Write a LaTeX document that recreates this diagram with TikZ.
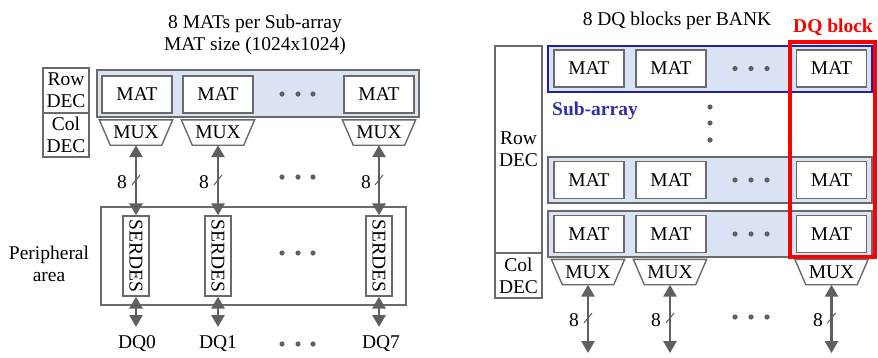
\documentclass[tikz,border=0pt]{standalone}
\usepackage{fontspec}
\setmainfont{Liberation Serif}
\usetikzlibrary{arrows.meta}
\definecolor{subfill}{HTML}{DAE3F3}
\definecolor{boxgray}{HTML}{6A6A6A}
\definecolor{arrgray}{HTML}{5F5F5F}
\definecolor{subblue}{HTML}{2020B0}
\definecolor{subtext}{HTML}{3030A8}
\definecolor{dqred}{HTML}{FF0000}
\newcommand\muxat[3]{%
  \node[muxbox] (#1) at (#2,#3) {MUX};
  \draw[draw=boxgray, line width=1.4pt, line join=miter] (#1.north west) -- (#1.north east) -- ([xshift=-11pt]#1.south east) -- ([xshift=11pt]#1.south west) -- cycle;
}
\newcommand\slashat[2]{%
  \draw[slashline] (#1-4,#2+5) -- (#1+4,#2-5);
}
\begin{document}
\begin{tikzpicture}[x=1pt,y=-1pt,
  every node/.style={font=\fontsize{19.5}{22}\selectfont, inner sep=0pt},
  box/.style={draw=boxgray, line width=1.4pt, fill=white, align=center},
  matbox/.style={box, minimum width=70pt, minimum height=37pt},
  subbox/.style={draw=boxgray, line width=1.4pt, fill=subfill},
  muxbox/.style={minimum width=73pt, minimum height=25pt},
  arr/.style={draw=arrgray, line width=2.8pt, {Triangle[width=13pt,length=12pt]}-{Triangle[width=13pt,length=12pt]}},
  slashline/.style={draw=arrgray, line width=1pt},
  dotfill/.style={fill=arrgray},
]
\useasboundingbox (0,0) rectangle (878,357);

% ================= LEFT PANEL =================
\node[align=center] (titleL) at (255,35) {8 MATs per Sub-array\\MAT size (1024x1024)};

\node[box, minimum width=46pt, minimum height=45pt] (rowL) at (66,90.5) {Row\\DEC};
\node[box, minimum width=46pt, minimum height=44pt] (colL) at (66,135) {Col\\DEC};

\node[subbox, minimum width=322pt, minimum height=47pt] (subL) at (258,93.5) {};
\node[matbox] (matL1) at (137,94.5) {MAT};
\node[matbox] (matL2) at (218,94.5) {MAT};
\node[matbox] (matL3) at (379,94.5) {MAT};
\foreach \x in {282,298,313} \fill[dotfill] (\x,94) circle (2.6pt);

\muxat{muxL1}{136}{132.5}
\muxat{muxL2}{218}{132.5}
\muxat{muxL3}{379}{132.5}

\node[draw=boxgray, line width=1.4pt, minimum width=305pt, minimum height=98pt] (peri) at (253.5,256) {};
\node[align=center] (periLab) at (49,264) {Peripheral\\area};

\node[box, minimum width=26pt, minimum height=80pt] (serL1) at (136,256) {\rotatebox{-90}{SERDES}};
\node[box, minimum width=26pt, minimum height=80pt] (serL2) at (218,256) {\rotatebox{-90}{SERDES}};
\node[box, minimum width=26pt, minimum height=80pt] (serL3) at (379,256) {\rotatebox{-90}{SERDES}};
\foreach \x in {282,298,313} \fill[dotfill] (\x,253) circle (2.6pt);

\draw[arr] (muxL1.south) -- (serL1.north);
\draw[arr] (muxL2.south) -- (serL2.north);
\draw[arr] (muxL3.south) -- (serL3.north);
\node (eightL1) at (122,182) {8};
\node (eightL2) at (204,182) {8};
\node (eightL3) at (366,182) {8};
\slashat{136}{180}
\slashat{218}{180}
\slashat{379}{180}
\foreach \x in {282,298,313} \fill[dotfill] (\x,177) circle (2.6pt);

\coordinate (dqc1) at (136,327);
\coordinate (dqc2) at (218,327);
\coordinate (dqc3) at (379,327);
\draw[arr] (serL1.south) -- (dqc1);
\draw[arr] (serL2.south) -- (dqc2);
\draw[arr] (serL3.south) -- (dqc3);
\node (dq0) at (137,344) {DQ0};
\node (dq1) at (218,344) {DQ1};
\node (dq7) at (381,344) {DQ7};
\foreach \x in {282,298,313} \fill[dotfill] (\x,344) circle (2.6pt);

% ================= RIGHT PANEL =================
\node (titleR) at (677,21) {8 DQ blocks per BANK};
\node[text=dqred, font=\fontsize{19.5}{22}\selectfont\bfseries] (dqLab) at (833,27) {DQ block};

\node[box, minimum width=47pt, minimum height=207pt] (rowR) at (518.5,149.5) {Row\\DEC};
\node[box, minimum width=47pt, minimum height=45pt] (colR) at (518.5,275.5) {Col\\DEC};

\node[subbox, draw=subblue, line width=2.6pt, minimum width=324pt, minimum height=46pt] (subR1) at (710,69) {};
\node[subbox, minimum width=324pt, minimum height=46pt] (subR2) at (710,180) {};
\node[subbox, minimum width=324pt, minimum height=46pt] (subR3) at (710,234) {};

\foreach \r/\y in {1/68.5,2/180,3/234}{
  \node[matbox] (matR\r a) at (589,\y) {MAT};
  \node[matbox] (matR\r b) at (671,\y) {MAT};
  \node[matbox] (matR\r c) at (831.5,\y) {MAT};
  \foreach \x in {735,751,767} \fill[dotfill] (\x,\y) circle (2.6pt);
}
\node[text=subtext, font=\fontsize{19.5}{22}\selectfont\bfseries] (subLab) at (595,111) {Sub-array};
\foreach \y in {107,123,140} \fill[dotfill] (710,\y) circle (2.6pt);

\node[draw=dqred, line width=4pt, minimum width=85pt, minimum height=215pt] (dqblk) at (832.5,149.5) {};

\muxat{muxR1}{588}{272}
\muxat{muxR2}{670}{272}
\muxat{muxR3}{831.5}{272}

\coordinate (eR1) at (588,353);
\coordinate (eR2) at (670,353);
\coordinate (eR3) at (831.5,353);
\draw[arr] (muxR1.south) -- (eR1);
\draw[arr] (muxR2.south) -- (eR2);
\draw[arr] (muxR3.south) -- (eR3);
\node (eightR1) at (574,320) {8};
\node (eightR2) at (656,320) {8};
\node (eightR3) at (818,320) {8};
\slashat{588}{318}
\slashat{670}{318}
\slashat{831.5}{318}
\foreach \x in {735,751,767} \fill[dotfill] (\x,317) circle (2.6pt);
\end{tikzpicture}
\end{document}
